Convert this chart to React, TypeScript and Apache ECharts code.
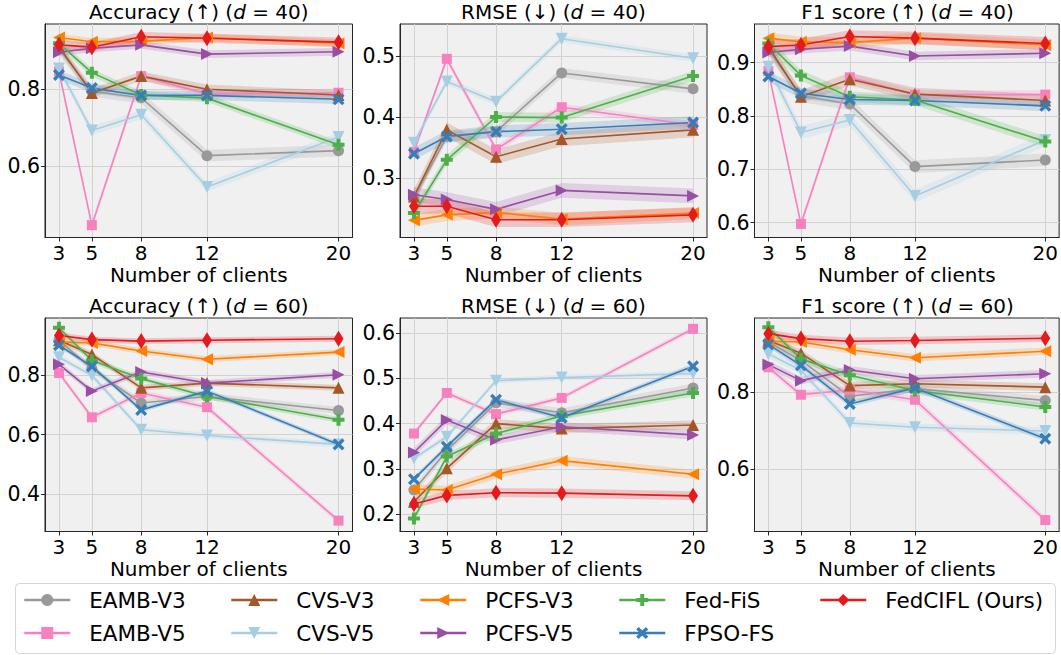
import React, { useEffect, useRef } from "react";
import * as echarts from "echarts";

const CLIENTS = [3, 5, 8, 12, 20];
const METHODS = ["EAMB-V3", "EAMB-V5", "CVS-V3", "CVS-V5", "PCFS-V3", "PCFS-V5", "Fed-FiS", "FPSO-FS", "FedCIFL (Ours)"];
const COLORS = ["#999999", "#f781bf", "#a65628", "#a6cee3", "#ff7f00", "#984ea3", "#4daf4a", "#377eb8", "#e41a1c"];

const PLUS = "path://M1,0H2V1H3V2H2V3H1V2H0V1H1Z";
const XMARK = "path://M2,0L5,3L8,0L10,2L7,5L10,8L8,10L5,7L2,10L0,8L3,5L0,2Z";
const SYMBOLS = ["circle", "rect", "triangle", "triangle", "triangle", "triangle", PLUS, XMARK, "diamond"];
const ROTATES = [0, 0, 0, 180, 90, -90, 0, 0, 0];
const SIZES: (number | number[])[] = [11, 10, 12, 12, 12, 12, 12, 12, [10, 16]];

// rows follow METHODS order, columns follow CLIENTS
const ACC_D40 = [
  [0.905, 0.795, 0.778, 0.628, 0.641],
  [0.846, 0.448, 0.834, 0.788, 0.791],
  [0.910, 0.790, 0.834, 0.800, 0.785],
  [0.854, 0.693, 0.734, 0.547, 0.676],
  [0.934, 0.923, 0.924, 0.934, 0.919],
  [0.896, 0.906, 0.915, 0.891, 0.897],
  [0.919, 0.843, 0.785, 0.777, 0.656],
  [0.837, 0.803, 0.784, 0.784, 0.774],
  [0.915, 0.909, 0.936, 0.932, 0.922],
];
const ACC_D40_STD = [0.015, 0.01, 0.012, 0.012, 0.01, 0.01, 0.01, 0.012, 0.012];

const RMSE_D40 = [
  [0.268, 0.368, 0.376, 0.472, 0.446],
  [0.343, 0.495, 0.347, 0.416, 0.387],
  [0.270, 0.379, 0.335, 0.364, 0.379],
  [0.358, 0.458, 0.425, 0.528, 0.496],
  [0.231, 0.240, 0.244, 0.233, 0.243],
  [0.273, 0.265, 0.249, 0.280, 0.271],
  [0.243, 0.330, 0.400, 0.399, 0.467],
  [0.340, 0.368, 0.376, 0.380, 0.391],
  [0.254, 0.254, 0.232, 0.232, 0.240],
];
const RMSE_D40_STD = [0.008, 0.006, 0.012, 0.006, 0.01, 0.012, 0.008, 0.01, 0.012];

const F1_D40 = [
  [0.924, 0.838, 0.8225, 0.705, 0.7175],
  [0.884, 0.5975, 0.8725, 0.840, 0.840],
  [0.930, 0.836, 0.869, 0.841, 0.829],
  [0.8925, 0.769, 0.7925, 0.650, 0.755],
  [0.946, 0.939, 0.9375, 0.946, 0.933],
  [0.919, 0.925, 0.931, 0.9125, 0.9175],
  [0.936, 0.876, 0.836, 0.830, 0.752],
  [0.874, 0.8425, 0.831, 0.829, 0.819],
  [0.930, 0.933, 0.949, 0.946, 0.936],
];
const F1_D40_STD = [0.012, 0.008, 0.012, 0.012, 0.01, 0.008, 0.01, 0.01, 0.012];

const ACC_D60 = [
  [0.917, 0.821, 0.706, 0.728, 0.681],
  [0.807, 0.658, 0.740, 0.692, 0.311],
  [0.917, 0.869, 0.757, 0.773, 0.757],
  [0.860, 0.799, 0.616, 0.597, 0.567],
  [0.911, 0.908, 0.881, 0.853, 0.877],
  [0.836, 0.746, 0.810, 0.773, 0.801],
  [0.959, 0.849, 0.788, 0.728, 0.650],
  [0.900, 0.829, 0.683, 0.746, 0.567],
  [0.933, 0.919, 0.914, 0.917, 0.922],
];
const ACC_D60_STD = [0.012, 0.01, 0.01, 0.01, 0.01, 0.01, 0.01, 0.008, 0.01];

const RMSE_D60 = [
  [0.253, 0.340, 0.446, 0.424, 0.479],
  [0.378, 0.468, 0.421, 0.457, 0.610],
  [0.227, 0.301, 0.400, 0.389, 0.397],
  [0.323, 0.371, 0.495, 0.502, 0.511],
  [0.255, 0.253, 0.288, 0.318, 0.288],
  [0.336, 0.408, 0.364, 0.393, 0.375],
  [0.190, 0.327, 0.378, 0.417, 0.468],
  [0.277, 0.349, 0.453, 0.413, 0.527],
  [0.222, 0.241, 0.247, 0.246, 0.240],
];
const RMSE_D60_STD = [0.01, 0.006, 0.01, 0.006, 0.01, 0.01, 0.008, 0.006, 0.01];

const F1_D60 = [
  [0.932, 0.884, 0.790, 0.810, 0.779],
  [0.866, 0.794, 0.807, 0.781, 0.466],
  [0.936, 0.903, 0.818, 0.823, 0.814],
  [0.901, 0.858, 0.720, 0.709, 0.699],
  [0.934, 0.932, 0.912, 0.891, 0.908],
  [0.873, 0.831, 0.859, 0.836, 0.849],
  [0.971, 0.888, 0.845, 0.805, 0.762],
  [0.926, 0.871, 0.770, 0.812, 0.679],
  [0.954, 0.941, 0.934, 0.936, 0.942],
];
const F1_D60_STD = [0.012, 0.01, 0.01, 0.01, 0.01, 0.01, 0.01, 0.008, 0.01];

const TICKS_ACC40 = [0.6, 0.8];
const TICKS_RMSE40 = [0.3, 0.4, 0.5];
const TICKS_F140 = [0.6, 0.7, 0.8, 0.9];
const TICKS_ACC60 = [0.4, 0.6, 0.8];
const TICKS_RMSE60 = [0.2, 0.3, 0.4, 0.5, 0.6];
const TICKS_F160 = [0.6, 0.8];

const PANELS = [
  { metric: "Accuracy (↑)", d: 40, values: ACC_D40, std: ACC_D40_STD, ticks: TICKS_ACC40, min: 0.416, max: 0.969 },
  { metric: "RMSE (↓)", d: 40, values: RMSE_D40, std: RMSE_D40_STD, ticks: TICKS_RMSE40, min: 0.203, max: 0.552 },
  { metric: "F1 score (↑)", d: 40, values: F1_D40, std: F1_D40_STD, ticks: TICKS_F140, min: 0.572, max: 0.9725 },
  { metric: "Accuracy (↑)", d: 60, values: ACC_D60, std: ACC_D60_STD, ticks: TICKS_ACC60, min: 0.2745, max: 0.9916 },
  { metric: "RMSE (↓)", d: 60, values: RMSE_D60, std: RMSE_D60_STD, ticks: TICKS_RMSE60, min: 0.161, max: 0.634 },
  { metric: "F1 score (↑)", d: 60, values: F1_D60, std: F1_D60_STD, ticks: TICKS_F160, min: 0.436, max: 0.995 },
];

const FONT = "DejaVu Sans";
const GRID_LEFT = [45, 400, 754.5];
const GRID_W = [307.5, 307, 306];
const GRID_TOP = [24, 318];
const GRID_H = 213.5;
const NAME_GAP = [27, 27];
const LEG_X = [23, 230, 419, 618, 819];
const LEG_Y = [589, 622];

function buildOption() {
  const grid: any[] = [];
  const xAxis: any[] = [];
  const yAxis: any[] = [];
  const series: any[] = [];
  const graphic: any[] = [];

  graphic.push({
    type: "rect",
    z: 0,
    shape: { x: 15.5, y: 583.5, width: 1040, height: 70, r: 4 },
    style: { fill: "#ffffff", stroke: "#d6d6d6", lineWidth: 1 },
  });

  PANELS.forEach((p, i) => {
    const row = Math.floor(i / 3);
    const col = i % 3;
    grid.push({
      left: GRID_LEFT[col],
      top: GRID_TOP[row],
      width: GRID_W[col],
      height: GRID_H,
      show: true,
      backgroundColor: "#f0f0f0",
      borderColor: "#262626",
      borderWidth: 1,
      containLabel: false,
    });
    xAxis.push({
      gridIndex: i,
      type: "value",
      min: 2.15,
      max: 20.85,
      name: "Number of clients",
      nameLocation: "middle",
      nameGap: NAME_GAP[row],
      nameMoveOverlap: false,
      nameTextStyle: { fontFamily: FONT, fontSize: 20, color: "#000", lineHeight: 20 },
      axisLine: { show: true, onZero: false, lineStyle: { color: "#262626", width: 1 } },
      axisTick: { show: true, customValues: CLIENTS, length: 4, lineStyle: { color: "#262626" } },
      axisLabel: { show: true, customValues: CLIENTS, margin: 5, fontFamily: FONT, fontSize: 20, lineHeight: 20, color: "#000" },
      splitLine: { show: true, lineStyle: { color: "#d2d2d2", width: 1 } },
    });
    yAxis.push({
      gridIndex: i,
      type: "value",
      min: p.min,
      max: p.max,
      axisLine: { show: true, onZero: false, lineStyle: { color: "#262626", width: 1 } },
      axisTick: { show: true, customValues: p.ticks, length: 4, lineStyle: { color: "#262626" } },
      axisLabel: {
        show: true,
        customValues: p.ticks,
        margin: 5,
        fontFamily: FONT,
        fontSize: 20.5,
        color: "#000",
        formatter: (v: number) => v.toFixed(1),
      },
      splitLine: { show: true, lineStyle: { color: "#d2d2d2", width: 1 } },
    });

    graphic.push({
      type: "text",
      x: GRID_LEFT[col] + GRID_W[col] / 2,
      y: GRID_TOP[row] - 12.5,
      style: {
        text: `${p.metric} ({i|d} = ${p.d})`,
        fontFamily: FONT,
        fontSize: 20,
        fill: "#000",
        align: "center",
        verticalAlign: "middle",
        textAlign: "center",
        textVerticalAlign: "middle",
        rich: { i: { fontFamily: FONT, fontSize: 20, fontStyle: "italic", fill: "#000" } },
      },
    });

    const vals = p.values;
    const std = p.std;
    series.push({
      type: "custom",
      name: "band" + i,
      xAxisIndex: i,
      yAxisIndex: i,
      z: 1,
      silent: true,
      data: CLIENTS.map((c, k) => [c, vals[0][k]]),
      encode: { x: 0, y: 1 },
      renderItem: (params: any, api: any) => {
        if (params.dataIndex !== 0) return null;
        const children = vals.map((row: number[], j: number) => {
          const upper = CLIENTS.map((c, k) => api.coord([c, row[k] + std[j]]));
          const lower = CLIENTS.map((c, k) => api.coord([c, row[k] - std[j]])).reverse();
          return {
            type: "polygon",
            shape: { points: upper.concat(lower) },
            style: { fill: COLORS[j], opacity: 0.2 },
          };
        });
        return { type: "group", children };
      },
    });

    METHODS.forEach((m, j) => {
      series.push({
        type: "line",
        name: m,
        xAxisIndex: i,
        yAxisIndex: i,
        z: 2,
        data: CLIENTS.map((c, k) => [c, vals[j][k]]),
        symbol: SYMBOLS[j],
        symbolSize: SIZES[j],
        symbolRotate: ROTATES[j],
        showSymbol: true,
        lineStyle: { color: COLORS[j], width: 1.6 },
        itemStyle: { color: COLORS[j], borderWidth: 0 },
        emphasis: { disabled: true },
      });
    });
  });

  const legend = METHODS.map((m, j) => ({
    data: [m],
    left: LEG_X[Math.floor(j / 2)],
    top: LEG_Y[j % 2],
    padding: 0,
    itemWidth: 46,
    itemHeight: 15,
    selectedMode: false,
    lineStyle: { width: 2.5 },
    textStyle: { fontFamily: FONT, fontSize: 21.5, color: "#000", padding: [0, 0, 0, 14] },
  }));

  return {
    animation: false,
    backgroundColor: "#ffffff",
    grid,
    xAxis,
    yAxis,
    series,
    graphic,
    legend,
  };
}

export default function App() {
  const ref = useRef<HTMLDivElement>(null);
  useEffect(() => {
    if (!ref.current) return;
    const chart = echarts.init(ref.current, undefined, { renderer: "svg" });
    chart.setOption(buildOption() as any);
    return () => chart.dispose();
  }, []);
  return (
    <div
      ref={ref}
      style={{ position: "absolute", left: 0, top: 0, width: 1061, height: 655 }}
    />
  );
}
